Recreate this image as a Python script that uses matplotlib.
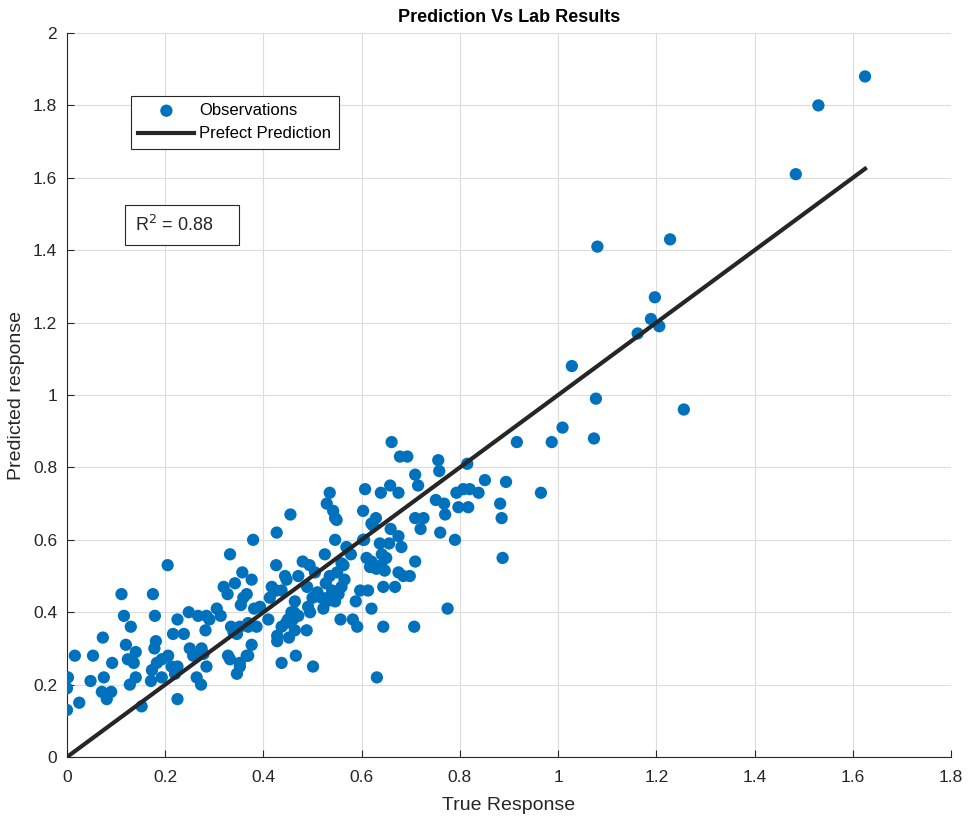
import numpy as np
import matplotlib
matplotlib.use("Agg")
import matplotlib.pyplot as plt
from matplotlib.patches import Rectangle

# true (lab) response vs predicted response
true_resp = [
    0.000, 0.000, 0.002, 0.025, 0.016, 0.048, 0.053, 0.073, 0.071, 0.081,
    0.090, 0.075, 0.092, 0.111, 0.116, 0.130, 0.120, 0.124, 0.136, 0.140,
    0.140, 0.128, 0.152, 0.175, 0.179, 0.181, 0.178, 0.173, 0.171, 0.193,
    0.183, 0.193, 0.206, 0.205, 0.216, 0.225, 0.238, 0.213, 0.225, 0.220,
    0.225, 0.248, 0.264, 0.273, 0.257, 0.274, 0.284, 0.267, 0.284, 0.290,
    0.282, 0.305, 0.313, 0.319, 0.327, 0.332, 0.342, 0.354, 0.357, 0.366,
    0.376, 0.381, 0.334, 0.346, 0.328, 0.332, 0.346, 0.352, 0.366, 0.376,
    0.369, 0.379, 0.352, 0.359, 0.339, 0.369, 0.386, 0.393, 0.410, 0.352,
    0.369, 0.250, 0.278, 0.427, 0.426, 0.417, 0.426, 0.437, 0.444, 0.447,
    0.471, 0.480, 0.494, 0.489, 0.500, 0.525, 0.546, 0.549, 0.527, 0.535,
    0.550, 0.559, 0.518, 0.522, 0.546, 0.559, 0.588, 0.597, 0.613, 0.620,
    0.557, 0.582, 0.591, 0.644, 0.644, 0.631, 0.603, 0.610, 0.620, 0.630,
    0.640, 0.650, 0.620, 0.637, 0.464, 0.457, 0.462, 0.471, 0.460, 0.450,
    0.446, 0.437, 0.428, 0.428, 0.452, 0.464, 0.488, 0.466, 0.437, 0.501,
    0.413, 0.540, 0.553, 0.531, 0.510, 0.565, 0.607, 0.658, 0.639, 0.675,
    0.715, 0.603, 0.629, 0.623, 0.659, 0.675, 0.656, 0.681, 0.709, 0.726,
    0.720, 0.751, 0.768, 0.770, 0.760, 0.790, 0.793, 0.807, 0.820, 0.838,
    0.851, 0.797, 0.817, 0.894, 0.882, 0.885, 0.887, 0.775, 0.709, 0.685,
    0.698, 0.675, 0.668, 0.707, 0.569, 0.578, 0.563, 0.546, 0.542, 0.535,
    0.529, 0.605, 0.455, 0.661, 0.678, 0.693, 0.756, 0.758, 0.709, 0.815,
    0.505, 0.916, 0.987, 1.009, 1.073, 0.965, 1.077, 1.256, 1.028, 1.162,
    1.206, 1.189, 1.197, 1.080, 1.228, 1.484, 1.530, 1.625, 0.542, 0.491,
    0.495, 0.529, 0.617, 0.647, 0.641,
]
pred_resp = [
    0.13, 0.19, 0.22, 0.15, 0.28, 0.21, 0.28, 0.33, 0.18, 0.16,
    0.18, 0.22, 0.26, 0.45, 0.39, 0.36, 0.31, 0.27, 0.26, 0.29,
    0.22, 0.20, 0.14, 0.45, 0.39, 0.32, 0.30, 0.24, 0.21, 0.22,
    0.26, 0.27, 0.28, 0.53, 0.34, 0.38, 0.34, 0.25, 0.25, 0.23,
    0.16, 0.40, 0.22, 0.20, 0.28, 0.30, 0.25, 0.39, 0.39, 0.38,
    0.35, 0.41, 0.39, 0.47, 0.45, 0.56, 0.48, 0.42, 0.51, 0.45,
    0.49, 0.41, 0.36, 0.34, 0.28, 0.27, 0.23, 0.25, 0.28, 0.31,
    0.36, 0.60, 0.36, 0.44, 0.345, 0.37, 0.36, 0.415, 0.38, 0.26,
    0.28, 0.30, 0.285, 0.62, 0.53, 0.47, 0.46, 0.46, 0.50, 0.49,
    0.50, 0.54, 0.53, 0.47, 0.44, 0.56, 0.60, 0.655, 0.48, 0.50,
    0.51, 0.535, 0.44, 0.41, 0.43, 0.47, 0.43, 0.46, 0.46, 0.41,
    0.38, 0.38, 0.36, 0.47, 0.36, 0.22, 0.60, 0.55, 0.54, 0.52,
    0.53, 0.55, 0.645, 0.59, 0.43, 0.40, 0.40, 0.39, 0.38, 0.38,
    0.37, 0.36, 0.335, 0.32, 0.33, 0.35, 0.35, 0.28, 0.26, 0.25,
    0.44, 0.46, 0.45, 0.44, 0.455, 0.49, 0.74, 0.75, 0.73, 0.73,
    0.75, 0.68, 0.66, 0.64, 0.63, 0.61, 0.59, 0.58, 0.66, 0.66,
    0.63, 0.71, 0.70, 0.67, 0.62, 0.60, 0.73, 0.74, 0.74, 0.73,
    0.765, 0.69, 0.69, 0.76, 0.70, 0.66, 0.55, 0.41, 0.54, 0.50,
    0.50, 0.51, 0.47, 0.36, 0.58, 0.56, 0.53, 0.66, 0.68, 0.73,
    0.70, 0.60, 0.67, 0.87, 0.83, 0.83, 0.82, 0.79, 0.78, 0.81,
    0.51, 0.87, 0.87, 0.91, 0.88, 0.73, 0.99, 0.96, 1.08, 1.17,
    1.19, 1.21, 1.27, 1.41, 1.43, 1.61, 1.80, 1.88, 0.45, 0.415,
    0.40, 0.43, 0.525, 0.515, 0.56,
]
r_squared = 0.88

x_ticks = [0, 0.2, 0.4, 0.6, 0.8, 1, 1.2, 1.4, 1.6, 1.8]
y_ticks = [0, 0.2, 0.4, 0.6, 0.8, 1, 1.2, 1.4, 1.6, 1.8, 2]


def main():
    plt.rcParams.update({
        'font.family': ['Liberation Sans', 'DejaVu Sans'],
        'font.size': 12,
        'axes.labelsize': 14,
        'xtick.labelsize': 12.5,
        'ytick.labelsize': 12.5,
        'legend.fontsize': 12,
    })
    dark = '#262626'
    blue = '#0072BD'

    fig = plt.figure(figsize=(9.72, 8.17), dpi=100)
    ax = fig.add_axes([0.0689, 0.0734, 0.9095, 0.8862])

    ax.scatter(true_resp, pred_resp, s=78, color=blue, edgecolors='none',
               zorder=3, label='Observations')
    line_end = max(true_resp)
    ax.plot([0, line_end], [0, line_end], color=dark, linewidth=3,
            zorder=4, label='Prefect Prediction')

    ax.set_xlim(0, 1.8)
    ax.set_ylim(0, 2)
    ax.set_xticks(x_ticks)
    ax.set_yticks(y_ticks)
    ax.set_xticklabels([f"{t:g}" for t in x_ticks])
    ax.set_yticklabels([f"{t:g}" for t in y_ticks])
    ax.tick_params(direction='in', length=5, width=0.8, colors=dark,
                   top=False, right=False)
    ax.tick_params(axis='x', pad=9)
    ax.tick_params(axis='y', pad=7)
    ax.grid(True, color='#dcdcdc', linewidth=0.8, zorder=0)
    ax.set_axisbelow(True)
    for side in ['top', 'right']:
        ax.spines[side].set_visible(False)
    for side in ['left', 'bottom']:
        ax.spines[side].set_color(dark)
        ax.spines[side].set_linewidth(0.8)

    ax.set_xlabel('True Response', color=dark, labelpad=9)
    ax.set_ylabel('Predicted response', color=dark, labelpad=6)
    ax.set_title('Prediction Vs Lab Results', fontsize=13, fontweight='bold',
                 color='black', pad=8)

    leg = ax.legend(loc='upper left', bbox_to_anchor=(0.0724, 0.9136),
                    fancybox=False, framealpha=1, edgecolor=dark,
                    borderpad=0.45, handlelength=3.35, handletextpad=0.3,
                    labelspacing=0.5, borderaxespad=0)
    leg.get_frame().set_linewidth(0.8)

    # R^2 annotation box
    ax.add_patch(Rectangle((0.0656, 0.7072), 0.129, 0.0552,
                           transform=ax.transAxes, facecolor='white',
                           edgecolor=dark, linewidth=0.8, zorder=5))
    ax.text(0.077, 0.735, f'R$^2$ = {r_squared:.2f}', transform=ax.transAxes,
            fontsize=13, color=dark, va='center', ha='left', zorder=6)

    fig.savefig('out.png', dpi=100)


if __name__ == "__main__":
    main()
